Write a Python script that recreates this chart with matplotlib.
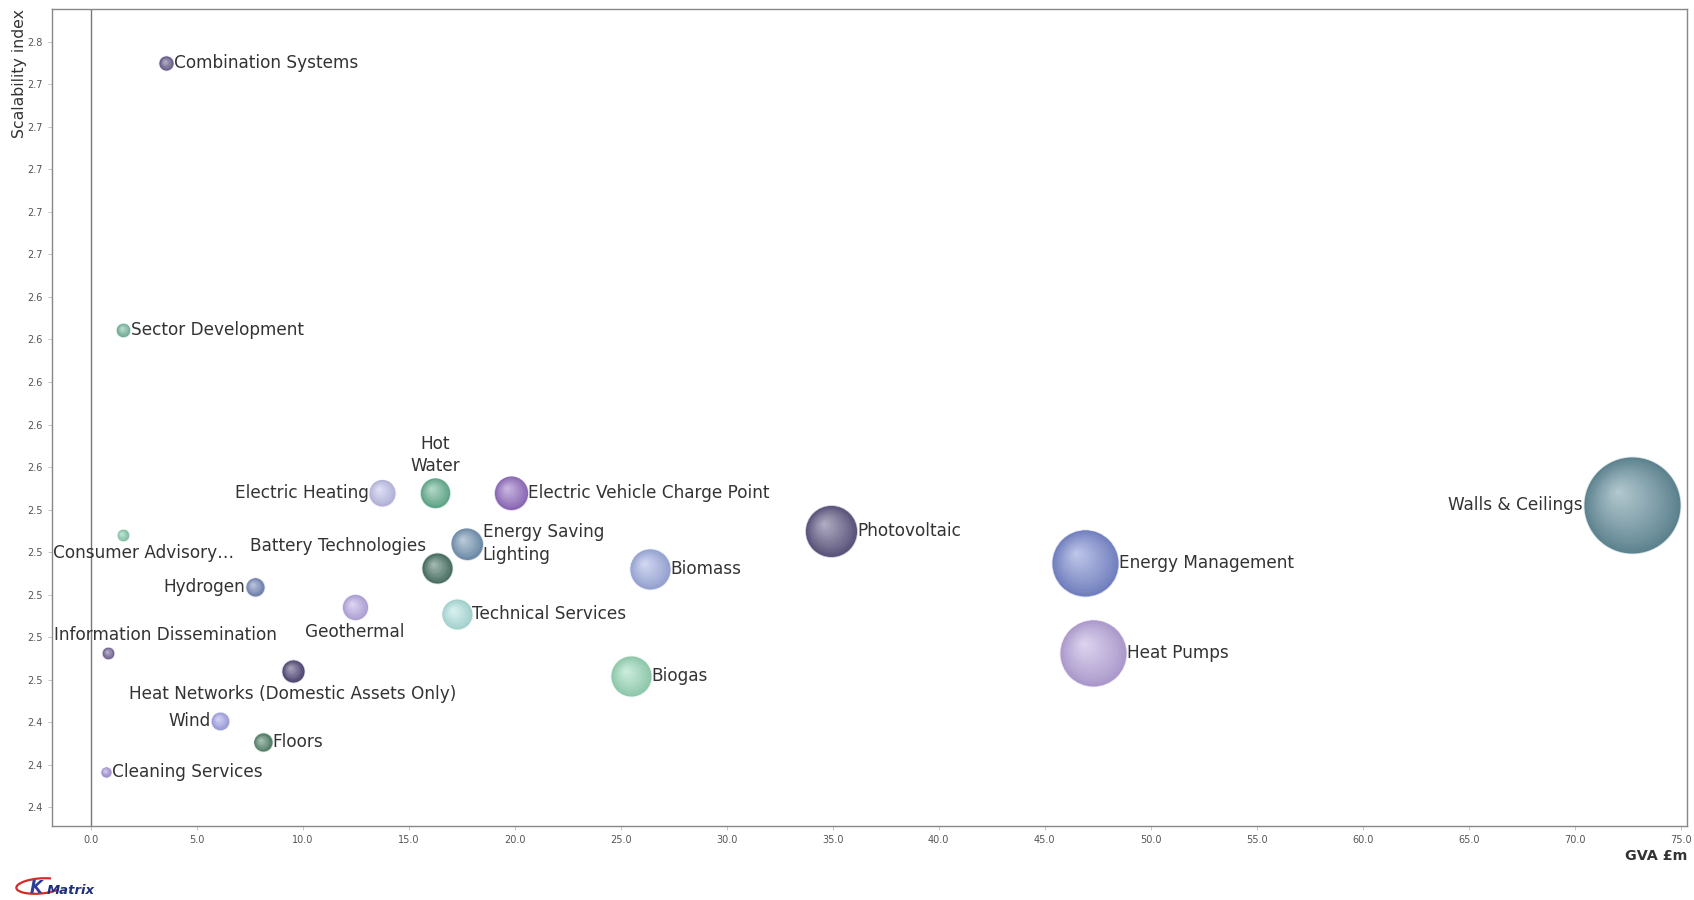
import numpy as np
import matplotlib
matplotlib.use("Agg")
import matplotlib.pyplot as plt
from matplotlib.transforms import offset_copy
from matplotlib.colors import to_rgb
from matplotlib.patches import Arc

# data
names = ["Combination Systems", "Sector Development", "Hot\nWater", "Electric Heating",
         "Electric Vehicle Charge Point", "Photovoltaic", "Walls & Ceilings",
         "Consumer Advisory\u2026", "Energy Saving\nLighting", "Battery Technologies",
         "Biomass", "Energy Management", "Hydrogen", "Geothermal", "Technical Services",
         "Information Dissemination", "Heat Networks (Domestic Assets Only)", "Heat Pumps",
         "Biogas", "Wind", "Floors", "Cleaning Services"]
gva = [3.57, 1.54, 16.25, 13.74, 19.83, 34.92, 72.69, 1.51, 17.73, 16.35, 26.37, 46.92,
       7.74, 12.47, 17.26, 0.83, 9.54, 47.28, 25.49, 6.10, 8.11, 0.72]
scalability = [2.750, 2.6245, 2.548, 2.548, 2.548, 2.530, 2.542, 2.528, 2.524, 2.5123,
               2.5121, 2.515, 2.5037, 2.494, 2.4907, 2.4725, 2.4641, 2.4726, 2.4616,
               2.4406, 2.4304, 2.4166]
weight = [12, 11, 53, 42, 68, 163, 576, 8, 60, 56, 100, 272, 20, 39, 56, 8, 30, 272,
          100, 19, 20, 6]
colors = ["#6a6090", "#78bca2", "#68b494", "#c4c4ee", "#9670c4", "#625a86", "#66909e",
          "#8ccfb2", "#7898b8", "#4c7668", "#a4b2e6", "#7c8cd2", "#7a8cbc", "#bcaee8",
          "#b4e6e2", "#76679a", "#54497a", "#bca9e0", "#9cdcbc", "#a8a8ec", "#55876e",
          "#a898de"]

# label placement: (dx, dy) in points from bubble centre, ha ; None -> right of bubble
place = {
    "Hot\nWater": (0, 27, "center"),
    "Electric Heating": ("L", 0, "right"),
    "Walls & Ceilings": ("L", 0, "right"),
    "Hydrogen": ("L", 0, "right"),
    "Wind": ("L", 0, "right"),
    "Battery Technologies": (-8, 16, "right"),
    "Geothermal": (0, -17.5, "center"),
    "Heat Networks (Domestic Assets Only)": (0, -16.5, "center"),
    "Information Dissemination": (-39.5, 13, "left"),
    "Consumer Advisory\u2026": (-50, -13, "left"),
}

W, H = 1694, 900
fig = plt.figure(figsize=(W / 100, H / 100), dpi=100)
ax = fig.add_axes([52 / W, 1 - 826 / H, (1687 - 52) / W, (826 - 9) / H])
ax.set_xlim(-1.83, 75.3)
ax.set_ylim(2.3911, 2.7755)

ax.set_xticks(np.arange(0, 76, 5))
ax.set_yticks(np.arange(2.40, 2.7601, 0.02))
ax.xaxis.set_major_formatter(matplotlib.ticker.FormatStrFormatter("%.1f"))
ax.yaxis.set_major_formatter(matplotlib.ticker.FormatStrFormatter("%.1f"))
ax.tick_params(labelsize=7, colors="#555555", length=3, width=0.6, color="#bbbbbb")
for s in ax.spines.values():
    s.set_color("#888888")
    s.set_linewidth(1)
ax.axvline(0, color="#777777", lw=1, zorder=1)

def blend(c, t, amt):
    c = np.array(to_rgb(c)); t = np.array(to_rgb(t))
    return tuple(c + (t - c) * amt)

nlay = 32
for n, x, y, w, c in zip(names, gva, scalability, weight, colors):
    r = 2 * np.sqrt(w) * 0.72  # radius in points
    edge = blend(c, "black", 0.1)
    hi = blend(c, "white", 0.5)
    hx, hy = -0.3 * r, 0.3 * r
    ax.scatter([x], [y], s=(2 * r + 1.2) ** 2, color=blend(c, "white", 0.7), lw=0, zorder=3)
    for k in range(nlay):
        f = 1 - k / nlay
        col = blend(edge, hi, (k / (nlay - 1)) ** 0.9)
        tr = offset_copy(ax.transData, fig=fig, x=(1 - f) * hx, y=(1 - f) * hy, units="points")
        ax.scatter([x], [y], s=(2 * f * r) ** 2, color=col, lw=0, transform=tr, zorder=3)
    p = place.get(n)
    if p is None:
        dx, dy, ha = r + 0.5, 0, "left"
    else:
        dx, dy, ha = p
        if dx == "L":
            dx = -(r + 0.5)
    ax.annotate(n, (x, y), xytext=(dx, dy), textcoords="offset points", ha=ha, va="center",
                fontsize=12.2, color="#333333", linespacing=1.3, zorder=4)

fig.text(19.5 / W, 1 - 9 / H, "Scalability index", rotation=90, ha="center", va="top",
         fontsize=11.3, color="#333333")
fig.text(1687 / W, 1 - 856 / H, "GVA \u00a3m", ha="right", va="center", fontsize=10.3,
         fontweight="bold", color="#333333")

# KMatrix logo
fig.text(30 / W, 1 - 888 / H, "K", ha="left", va="center", fontsize=12, fontweight="bold",
         style="italic", color="#2a3f9a")
fig.text(47 / W, 1 - 890 / H, "Matrix", ha="left", va="center", fontsize=9.5,
         fontweight="bold", style="italic", color="#1f2f7a")
fig.patches.append(Arc((40 / W, 1 - 886 / H), 48 / W, 15 / H, angle=12, theta1=40, theta2=330,
                       color="#d42a2a", lw=1.6, transform=fig.transFigure))

fig.savefig("out.png", dpi=100)
